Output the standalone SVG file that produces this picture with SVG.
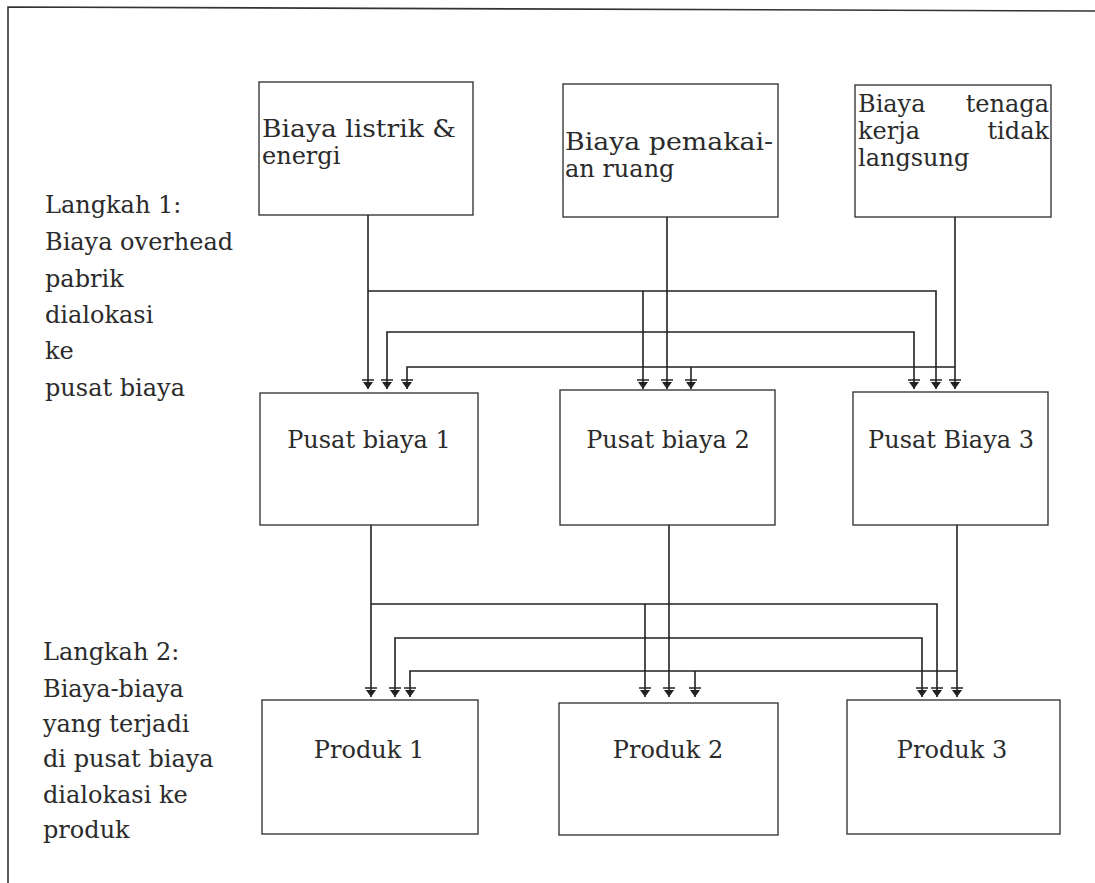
<svg xmlns="http://www.w3.org/2000/svg" width="1095" height="883" viewBox="0 0 1095 883">
<style>
.bg{fill:#ffffff}
.frame{fill:none;stroke:#333;stroke-width:1.6}
.box{fill:#ffffff;stroke:#3a3a3a;stroke-width:1.4}
.t{font-family:"DejaVu Serif","Liberation Serif",serif;font-size:24px;fill:#2b2b2b}
.c{text-anchor:middle}
.e{text-anchor:end}
.con path{fill:none;stroke:#222;stroke-width:1.6;marker-end:url(#ah)}
</style>
<defs>
<marker id="ah" markerUnits="userSpaceOnUse" markerWidth="14" markerHeight="14" viewBox="-10 -7 12 14" refX="0" refY="0" orient="auto">
<path d="M-9,-6 L-9,6" stroke="#222" stroke-width="1.5" fill="none"/>
<path d="M-7,-5 L0,0 L-7,5 Z" fill="#222"/>
</marker>
</defs>
<rect class="bg" x="0" y="0" width="1095" height="883"/>
<path class="frame" d="M8,883 L8,7 L1095,11"/>

<g id="step1-label">
<text class="t" x="45" y="213">Langkah 1:</text>
<text class="t" x="45" y="250">Biaya overhead</text>
<text class="t" x="45" y="287">pabrik</text>
<text class="t" x="45" y="323">dialokasi</text>
<text class="t" x="45" y="359">ke</text>
<text class="t" x="45" y="396">pusat biaya</text>
</g>
<g id="step2-label">
<text class="t" x="43" y="660">Langkah 2:</text>
<text class="t" x="43" y="697">Biaya-biaya</text>
<text class="t" x="43" y="732">yang terjadi</text>
<text class="t" x="43" y="767">di pusat biaya</text>
<text class="t" x="43" y="803">dialokasi ke</text>
<text class="t" x="43" y="838">produk</text>
</g>

<g id="biaya-listrik">
<rect class="box" x="259" y="82" width="214" height="133"/>
<text class="t" x="262" y="137" textLength="194" lengthAdjust="spacingAndGlyphs">Biaya listrik &amp;</text>
<text class="t" x="262" y="164">energi</text>
</g>
<g id="biaya-ruang">
<rect class="box" x="563" y="84" width="215" height="133"/>
<text class="t" x="565" y="150" textLength="208" lengthAdjust="spacingAndGlyphs">Biaya pemakai-</text>
<text class="t" x="565" y="177">an ruang</text>
</g>
<g id="biaya-tenaga">
<rect class="box" x="855" y="85" width="196" height="132"/>
<text class="t" x="858" y="112">Biaya</text>
<text class="t e" x="1049" y="112">tenaga</text>
<text class="t" x="858" y="139">kerja</text>
<text class="t e" x="1049" y="139">tidak</text>
<text class="t" x="858" y="166">langsung</text>
</g>

<g id="pusat1">
<rect class="box" x="260" y="393" width="218" height="132"/>
<text class="t c" x="369" y="448">Pusat biaya 1</text>
</g>
<g id="pusat2">
<rect class="box" x="560" y="390" width="215" height="135"/>
<text class="t c" x="668" y="448">Pusat biaya 2</text>
</g>
<g id="pusat3">
<rect class="box" x="853" y="392" width="195" height="133"/>
<text class="t c" x="951" y="448">Pusat Biaya 3</text>
</g>

<g id="produk1">
<rect class="box" x="262" y="700" width="216" height="134"/>
<text class="t c" x="369" y="758">Produk 1</text>
</g>
<g id="produk2">
<rect class="box" x="559" y="703" width="219" height="132"/>
<text class="t c" x="668" y="758">Produk 2</text>
</g>
<g id="produk3">
<rect class="box" x="847" y="700" width="213" height="134"/>
<text class="t c" x="952" y="758">Produk 3</text>
</g>

<g id="connectors" class="con">
<path d="M368,215 V389"/>
<path d="M368,291 H936 V389"/>
<path d="M643,291 V389"/>
<path d="M667,217 V389"/>
<path d="M667,332 H387 V389"/>
<path d="M667,332 H914 V389"/>
<path d="M955,217 V389"/>
<path d="M955,367 H407 V389"/>
<path d="M691,367 V389"/>

<path d="M371,525 V697"/>
<path d="M371,604 H937 V697"/>
<path d="M645,604 V697"/>
<path d="M669,525 V697"/>
<path d="M669,638 H395 V697"/>
<path d="M669,638 H922 V697"/>
<path d="M957,525 V697"/>
<path d="M957,671 H410 V697"/>
<path d="M695,671 V697"/>
</g>
</svg>
